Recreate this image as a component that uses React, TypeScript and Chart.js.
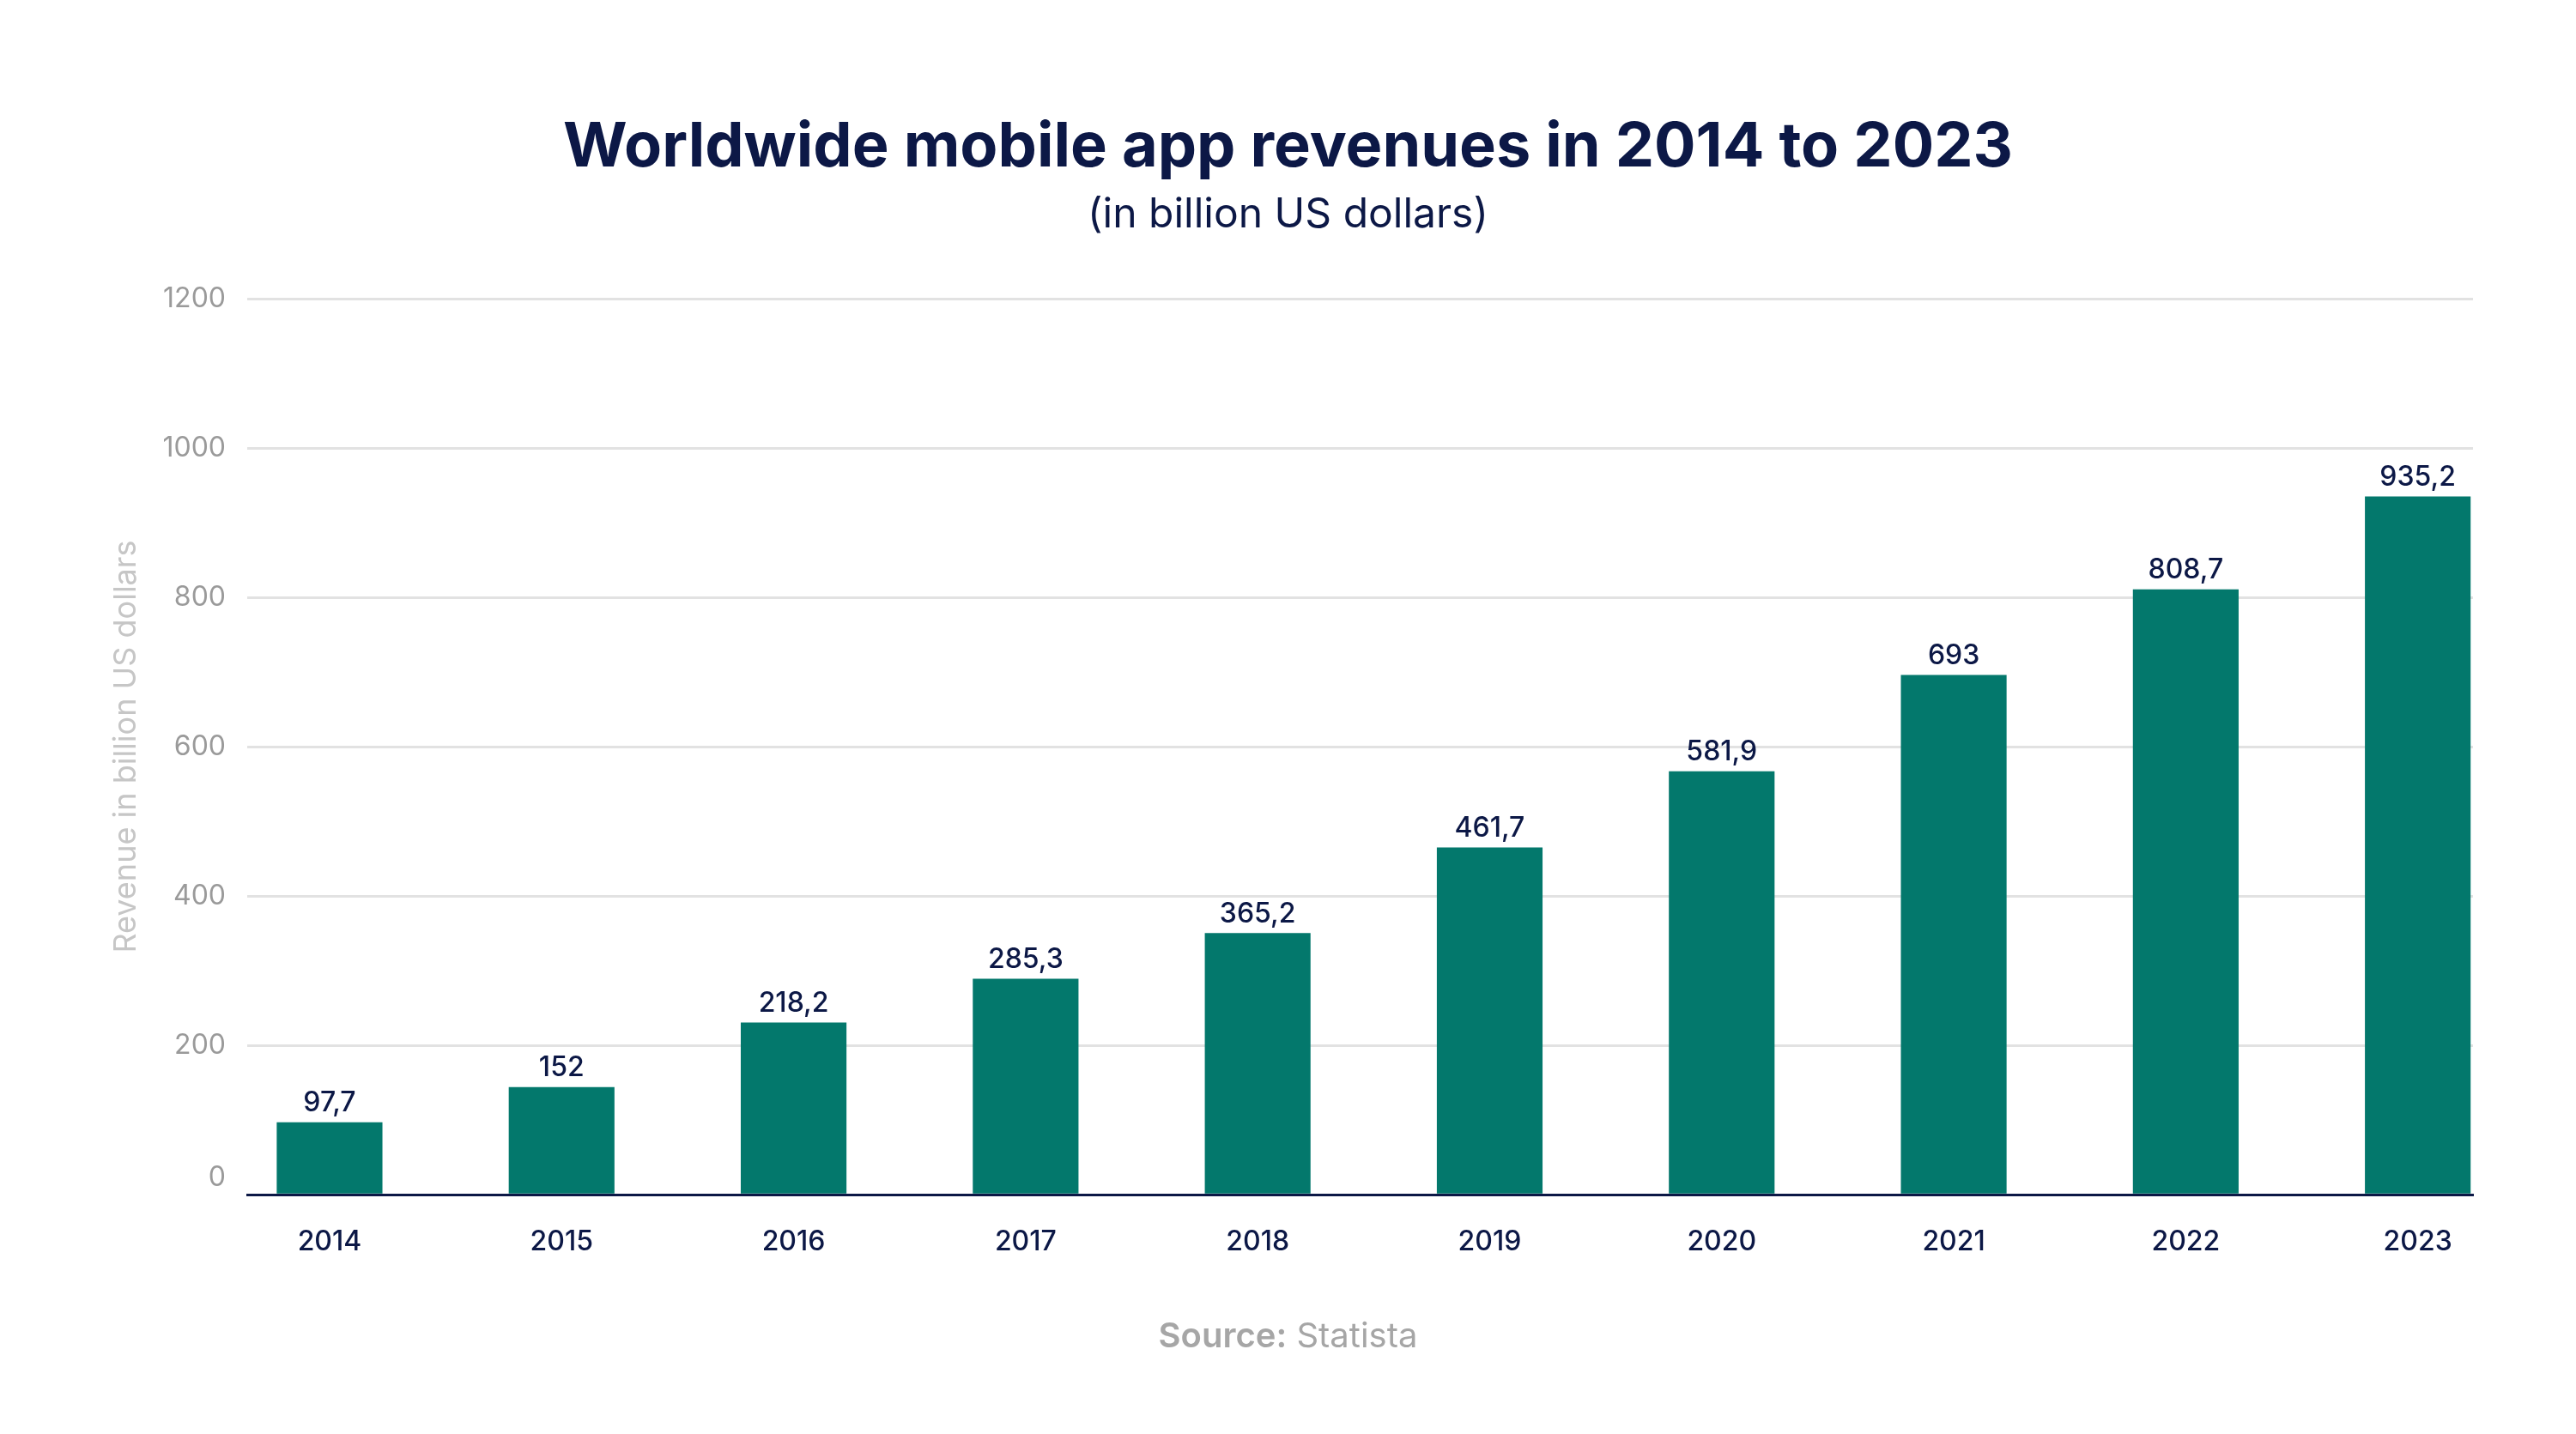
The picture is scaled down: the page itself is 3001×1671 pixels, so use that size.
import React, { useEffect, useRef } from "react";
import { Chart, registerables } from "chart.js";

Chart.register(...registerables);

// ---- data ----
const years = ["2014", "2015", "2016", "2017", "2018", "2019", "2020", "2021", "2022", "2023"];
// bar heights (billion US dollars)
const revenue = [96.6, 143.7, 230.0, 288.8, 349.9, 464.6, 566.6, 695.7, 810.4, 934.9];
// value labels as printed above the bars
const valueLabels = ["97,7", "152", "218,2", "285,3", "365,2", "461,7", "581,9", "693", "808,7", "935,2"];
const yTickStep = 200;
const yMax = 1200;

const titleText = "Worldwide mobile app revenues in 2014 to 2023";
const subtitleText = "(in billion US dollars)";
const yAxisTitle = "Revenue in billion US dollars";

// ---- styles ----
const NAVY = "#0c1846";
const TEAL = "#03786c";
const FONT = "Inter, 'Open Sans', sans-serif";

const valueLabelPlugin = {
  id: "valueLabels",
  afterDatasetsDraw(chart: any) {
    const ctx = chart.ctx;
    const meta = chart.getDatasetMeta(0);
    ctx.save();
    ctx.font = `500 32px ${FONT}`;
    ctx.fillStyle = NAVY;
    ctx.textAlign = "center";
    ctx.textBaseline = "alphabetic";
    meta.data.forEach((bar: any, i: number) => {
      ctx.fillText(valueLabels[i], bar.x, bar.y - 13);
    });
    ctx.restore();
  },
};

export default function App() {
  const canvasRef = useRef<HTMLCanvasElement | null>(null);

  useEffect(() => {
    if (!canvasRef.current) return;
    const chart = new Chart(canvasRef.current, {
      type: "bar",
      data: {
        datasets: [
          {
            label: "Revenue",
            data: revenue.map((v, i) => ({ x: i, y: v })),
            backgroundColor: TEAL,
            borderWidth: 0,
            barThickness: 122.5,
          },
        ],
      },
      plugins: [valueLabelPlugin],
      options: {
        animation: false,
        responsive: false,
        layout: { padding: { left: 0, right: 0, top: 0, bottom: 179 } },
        plugins: {
          legend: { display: false },
          tooltip: { enabled: false },
          title: {
            display: true,
            text: titleText,
            color: NAVY,
            font: { family: FONT, size: 72, weight: "bold", lineHeight: 1.2 },
            padding: { top: 129, bottom: 6 },
          },
          subtitle: {
            display: true,
            text: subtitleText,
            color: NAVY,
            font: { family: FONT, size: 48, weight: "normal", lineHeight: 1.2 },
            padding: { top: 0, bottom: 69.2 },
          },
        },
        scales: {
          x: {
            type: "linear",
            offset: false,
            min: -0.355,
            max: 9.238,
            grid: { display: false, drawTicks: false },
            border: { display: true, color: NAVY, width: 3 },
            ticks: {
              stepSize: 1,
              includeBounds: false,
              autoSkip: false,
              maxRotation: 0,
              padding: 36,
              color: NAVY,
              font: { family: FONT, size: 32, weight: "500" },
              callback: (v: any) => years[v as number] ?? "",
            },
            afterFit: (s: any) => {
              s.height = 100;
            },
          },
          y: {
            min: 0,
            max: yMax,
            grid: { color: "#e2e2e2", lineWidth: 3, drawTicks: false },
            border: { display: false },
            ticks: {
              stepSize: yTickStep,
              padding: 25,
              color: "#9a9a9a",
              font: { family: FONT, size: 32 },
              callback: (v: any) => (v === 0 ? ["0", ""] : String(v)),
            },
            title: {
              display: true,
              text: yAxisTitle,
              color: "#c6c6c6",
              font: { family: FONT, size: 36 },
              padding: { top: 126, bottom: 0 },
            },
            afterFit: (s: any) => {
              s.width = 288;
            },
          },
          yRight: {
            type: "linear",
            position: "right",
            display: true,
            min: 0,
            max: yMax,
            grid: { display: false, drawTicks: false },
            border: { display: false },
            ticks: { display: false },
            afterFit: (s: any) => {
              s.width = 120;
            },
          },
        },
      },
    } as any);
    return () => chart.destroy();
  }, []);

  return (
    <div style={{ position: "absolute", left: 0, top: 0, width: 3001, height: 1671, background: "#ffffff" }}>
      <canvas ref={canvasRef} width={3001} height={1671} style={{ display: "block", width: 3001, height: 1671 }} />
      <div
        style={{
          position: "absolute",
          left: 0,
          top: 1532,
          width: 3001,
          textAlign: "center",
          fontFamily: FONT,
          fontSize: 40,
          lineHeight: "48px",
          color: "#a6a6a6",
        }}
      >
        <span style={{ fontWeight: 600 }}>Source:</span> Statista
      </div>
    </div>
  );
}
